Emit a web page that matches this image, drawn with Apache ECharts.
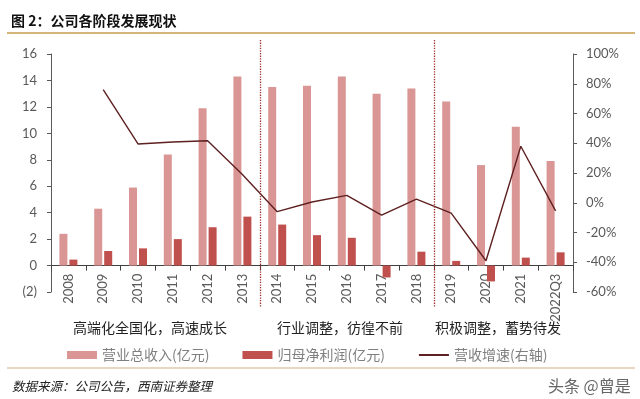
<!DOCTYPE html>
<html>
<head>
<meta charset="utf-8">
<script src="https://cdn.jsdelivr.net/npm/echarts@6/dist/echarts.min.js"></script>
<style>
  html, body { margin: 0; padding: 0; background: #fff; }
  #main { width: 640px; height: 399px; }
</style>
</head>
<body>
<div id="main"></div>
<script>
// 年份
var years = ['2008', '2009', '2010', '2011', '2012', '2013', '2014', '2015', '2016', '2017', '2018', '2019', '2020', '2021', '2022Q3'];
// 营业总收入(亿元)
var revenue = [2.4, 4.3, 5.9, 8.4, 11.9, 14.3, 13.5, 13.6, 14.3, 13.0, 13.4, 12.4, 7.6, 10.5, 7.9];
// 归母净利润(亿元)
var profit = [0.45, 1.1, 1.3, 2.0, 2.9, 3.7, 3.1, 2.3, 2.1, -0.9, 1.05, 0.35, -1.2, 0.6, 1.0];
// 营收增速(%)
var growth = [null, 76, 39.5, 40.8, 41.7, 19, -6, 0.5, 5, -8.3, 2.5, -7, -39, 38, -5.5];
// 阶段说明
var stages = ['高端化全国化，高速成长', '行业调整，彷徨不前', '积极调整，蓄势待发'];
// 阶段分界(在这两个年份之间画虚线)
var splitAfter = ['2013', '2018'];

var labelFont = 'Lato';
var cjkFont = '"Noto Sans CJK SC"';

var myChart = echarts.init(document.getElementById('main'), null, { renderer: 'canvas' });

var option = {
  animation: false,
  textStyle: { fontFamily: cjkFont },
  title: [
    {
      text: '图 2：公司各阶段发展现状',
      left: 6, top: 9,
      textStyle: { fontSize: 14, fontWeight: 'bold', color: '#111', fontFamily: cjkFont }
    },
    {
      text: '数据来源：公司公告，西南证券整理',
      left: 7, top: 375,
      textStyle: { fontSize: 12.5, fontStyle: 'italic', fontWeight: 'normal', color: '#222', fontFamily: cjkFont }
    },
    {
      text: '头条 @曾是',
      left: 543, top: 373,
      textStyle: { fontSize: 16, fontWeight: 'normal', color: '#666', fontFamily: cjkFont }
    }
  ],
  legend: {
    left: 62, top: 343,
    itemWidth: 30, itemHeight: 8, itemGap: 33,
    textStyle: { fontSize: 14, color: '#7f7f7f', fontFamily: cjkFont },
    data: [
      { name: '营业总收入(亿元)', icon: 'rect' },
      { name: '归母净利润(亿元)', icon: 'rect' },
      { name: '营收增速(右轴)', itemStyle: { opacity: 0 } }
    ]
  },
  grid: { left: 51, right: 67, top: 54, bottom: 107, outerBoundsMode: 'none' },
  xAxis: [
    {
      // 零轴线
      type: 'category',
      data: years,
      axisLine: { onZero: true, onZeroAxisIndex: 0, lineStyle: { color: '#404040', width: 1 } },
      axisTick: { show: false },
      axisLabel: { show: false }
    },
    {
      // 刻度和年份标签，放在零轴处
      type: 'category',
      data: years,
      position: 'bottom',
      offset: -26.4,
      axisLine: { show: false, onZero: false },
      axisTick: { show: true, length: 5, lineStyle: { color: '#404040' } },
      axisLabel: {
        interval: 0, rotate: 90, margin: 8,
        fontSize: 13, color: '#595959', fontFamily: labelFont
      }
    }
  ],
  yAxis: [
    {
      type: 'value', min: -2, max: 16, interval: 2,
      splitLine: { show: false },
      axisLine: { show: true, lineStyle: { color: '#595959' } },
      axisTick: { show: true, length: 4, lineStyle: { color: '#595959' } },
      axisLabel: {
        margin: 14, fontSize: 13, color: '#595959', fontFamily: labelFont,
        formatter: function (v) { return v < 0 ? '(' + (-v) + ')' : v; }
      }
    },
    {
      type: 'value', min: -60, max: 100, interval: 20,
      splitLine: { show: false },
      axisLine: { show: true, lineStyle: { color: '#595959' } },
      axisTick: { show: true, length: 4, lineStyle: { color: '#595959' } },
      axisLabel: {
        margin: 13, fontSize: 13, color: '#595959', fontFamily: labelFont,
        formatter: function (v) { return v + '%'; }
      }
    }
  ],
  series: [
    {
      name: '营业总收入(亿元)', type: 'bar', yAxisIndex: 0,
      barWidth: 8, barGap: '25%',
      itemStyle: { color: '#d99694' },
      data: revenue
    },
    {
      name: '归母净利润(亿元)', type: 'bar', yAxisIndex: 0,
      barWidth: 8, barGap: '25%',
      itemStyle: { color: '#c0504d' },
      data: profit
    },
    {
      name: '营收增速(右轴)', type: 'line', yAxisIndex: 1,
      symbol: 'none', connectNulls: false,
      lineStyle: { color: '#5e2020', width: 1.4 },
      itemStyle: { color: '#5e2020' },
      data: growth
    }
  ]
};

myChart.setOption(option);

// 分隔线和阶段文字，位置由坐标轴换算
function drawDecor() {
  var graphics = [];
  // 标题下金色横线、来源上方横线
  graphics.push({ type: 'line', shape: { x1: 7, y1: 33, x2: 635, y2: 33 }, style: { stroke: '#d4b57a', lineWidth: 2 } });
  graphics.push({ type: 'line', shape: { x1: 7, y1: 368, x2: 635, y2: 368 }, style: { stroke: '#cfae86', lineWidth: 1.2 } });

  splitAfter.forEach(function (y) {
    var i = years.indexOf(y);
    var a = myChart.convertToPixel({ xAxisIndex: 0 }, years[i]);
    var b = myChart.convertToPixel({ xAxisIndex: 0 }, years[i + 1]);
    var x = Math.round((a + b) / 2) + 0.5;
    graphics.push({
      type: 'line', z: 10,
      shape: { x1: x, y1: 40, x2: x, y2: 307 },
      style: { stroke: '#9e2f2f', lineWidth: 1.3, lineDash: [1.3, 1.3] }
    });
  });

  var stageX = [150, 340, 498];
  stages.forEach(function (t, k) {
    graphics.push({
      type: 'text', x: stageX[k], y: 328,
      style: { text: t, fill: '#222', font: '14px ' + cjkFont, align: 'center', verticalAlign: 'middle' }
    });
  });

  myChart.setOption({ graphic: graphics });
}
drawDecor();

window.addEventListener('resize', function () {
  setTimeout(function () { myChart.resize(); drawDecor(); }, 300);
});
</script>
</body>
</html>
